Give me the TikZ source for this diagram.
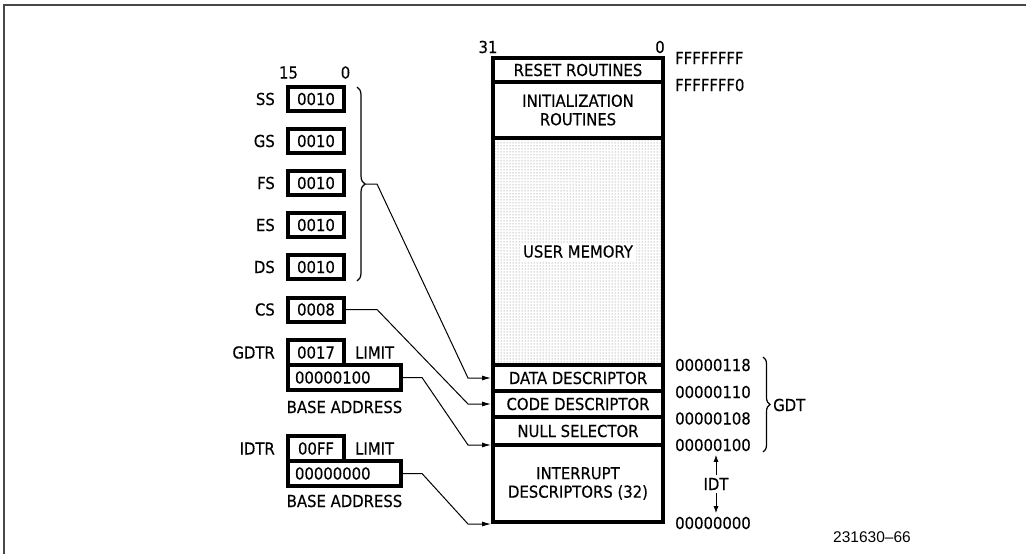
\documentclass[tikz,border=0pt]{standalone}
\usepackage{fontspec}
\newfontfamily\cad[FakeStretch=0.9,FakeBold=0.4]{DejaVu Sans}
\newfontfamily\figfont{Liberation Sans}
\usetikzlibrary{arrows.meta,calc,decorations.pathreplacing,patterns.meta}
\begin{document}
\begin{tikzpicture}[x=1pt,y=1pt,
  cadfont/.style={font=\cad\fontsize{16.5}{18.5}\selectfont},
  txt/.style={cadfont, inner sep=0pt, text height=12pt, text depth=0pt},
  mtxt/.style={cadfont, inner sep=0pt, align=center},
  reg/.style={draw, line width=4pt, minimum width=56pt, minimum height=24pt,
              inner sep=0pt, cadfont, text height=12pt, text depth=0pt},
  basereg/.style={reg, minimum width=113pt, minimum height=25pt, text width=99pt,
              align=left, inner xsep=7pt},
  limreg/.style={reg, minimum height=25pt},
  mem/.style={draw, line width=4pt, minimum width=170pt, inner sep=0pt},
  conn/.style={line width=1pt},
  arr/.style={conn, -{Latex[length=9pt,width=5pt]}},
  sarr/.style={line width=1pt, -{Latex[length=7pt,width=5pt]}},
  brc/.style={line width=1.2pt, decorate},
  frame/.style={line width=2pt, draw=black!72}
]
\useasboundingbox (0,0) rectangle (1026,-554);
\draw[frame] (4,-554) -- (4,-5) -- (1026,-5);

% ---- segment registers ----
\node[txt] (b15) at (288.5,-72.5) {15};
\node[txt] (b0) at (345.5,-72.5) {0};
\node[reg] (ss) at (316,-99) {0010};
\node[reg] (gs) at (316,-141) {0010};
\node[reg] (fs) at (316,-183) {0010};
\node[reg] (es) at (316,-225) {0010};
\node[reg] (ds) at (316,-267) {0010};
\node[reg] (cs) at (316,-309.5) {0008};
\foreach \n/\t in {ss/SS,gs/GS,fs/FS,es/ES,ds/DS,cs/CS}
  \node[txt, anchor=east] (\n l) at ([xshift=-11pt]\n.west) {\t};

\draw[brc, decoration={brace,amplitude=8pt}] (357,-87) -- (357,-281);
\coordinate (bt) at (365,-184);

% ---- GDTR ----
\node[basereg] (gb) at (344.5,-377.5) {00000100};
\node[limreg] (gl) at (316,-352.5) {0017};
\node[txt, anchor=east] (gdtrl) at (275,-352.5) {GDTR};
\node[txt, anchor=west] (glim) at (355,-352.5) {LIMIT};
\node[txt] (gba) at (344.5,-407) {BASE ADDRESS};

% ---- IDTR ----
\node[basereg] (ib) at (344.5,-473.5) {00000000};
\node[limreg] (il) at (316,-448.5) {00FF};
\node[txt, anchor=east] (idtrl) at (275,-448.5) {IDTR};
\node[txt, anchor=west] (ilim) at (355,-448.5) {LIMIT};
\node[txt] (iba) at (344.5,-501) {BASE ADDRESS};

% ---- memory map ----
\node[txt] (m31) at (488,-47) {31};
\node[txt] (m0) at (660,-47) {0};
\node[mem, minimum height=227pt, pattern={Dots[distance=3pt,radius=0.5pt]},
      pattern color=black!55] (user) at (578,-251.5) {};
\node[txt, fill=white, inner sep=3pt] (ut) at (user.center) {USER MEMORY};
\node[mem, minimum height=24pt, txt] (reset) at (578,-70) {RESET ROUTINES};
\node[mem, minimum height=56pt, mtxt] (init) at (578,-110) {INITIALIZATION\\ROUTINES};
\node[mem, minimum height=26pt, txt] (data) at (578,-378) {DATA DESCRIPTOR};
\node[mem, minimum height=26pt, txt] (code) at (578,-404) {CODE DESCRIPTOR};
\node[mem, minimum height=28pt, txt] (null) at (578,-431) {NULL SELECTOR};
\node[mem, minimum height=77pt, mtxt] (intr) at (578,-483.5) {INTERRUPT\\DESCRIPTORS (32)};
\coordinate (nb) at ($(null.south west)!0.5!(intr.north west)$);

% ---- addresses ----
\node[txt, anchor=west] (a1) at (675,-58) {FFFFFFFF};
\node[txt, anchor=west] (a2) at (675,-85) {FFFFFFF0};
\node[txt, anchor=west] (a3) at (675,-365) {00000118};
\node[txt, anchor=west] (a4) at (675,-392) {00000110};
\node[txt, anchor=west] (a5) at (675,-418.5) {00000108};
\node[txt, anchor=west] (a6) at (675,-445) {00000100};
\node[txt, anchor=west] (a7) at (675,-523) {00000000};
\draw[brc, decoration={brace,amplitude=7pt}] (763,-357) -- (763,-452);
\node[txt, anchor=west] (gdt) at (773,-405) {GDT};
\node[txt, inner ysep=3pt] (idt) at (716,-484) {IDT};
\draw[sarr] (idt.north) -- ++(0,20);
\draw[sarr] (idt.south) -- ++(0,-20);

% ---- connectors ----
\draw[arr] (bt) -- ++(12,0) -- ($(data.west)+(-23,0)$) -- (data.west);
\draw[arr] (cs.east) -- ++(31,0) -- ($(code.west)+(-23,0)$) -- (code.west);
\draw[arr] (gb.east) -- ++(19,0) -- ($(nb)+(-23,0)$) -- (nb);
\draw[arr] (ib.east) -- ++(19,0) -- ($(intr.south west)+(-23,0)$) -- (intr.south west);

\node[font=\figfont\fontsize{15.5}{18}\selectfont, anchor=west, inner sep=0pt,
      text height=11pt, text depth=0pt] (fig) at (833,-537) {231630–66};
\end{tikzpicture}
\end{document}
